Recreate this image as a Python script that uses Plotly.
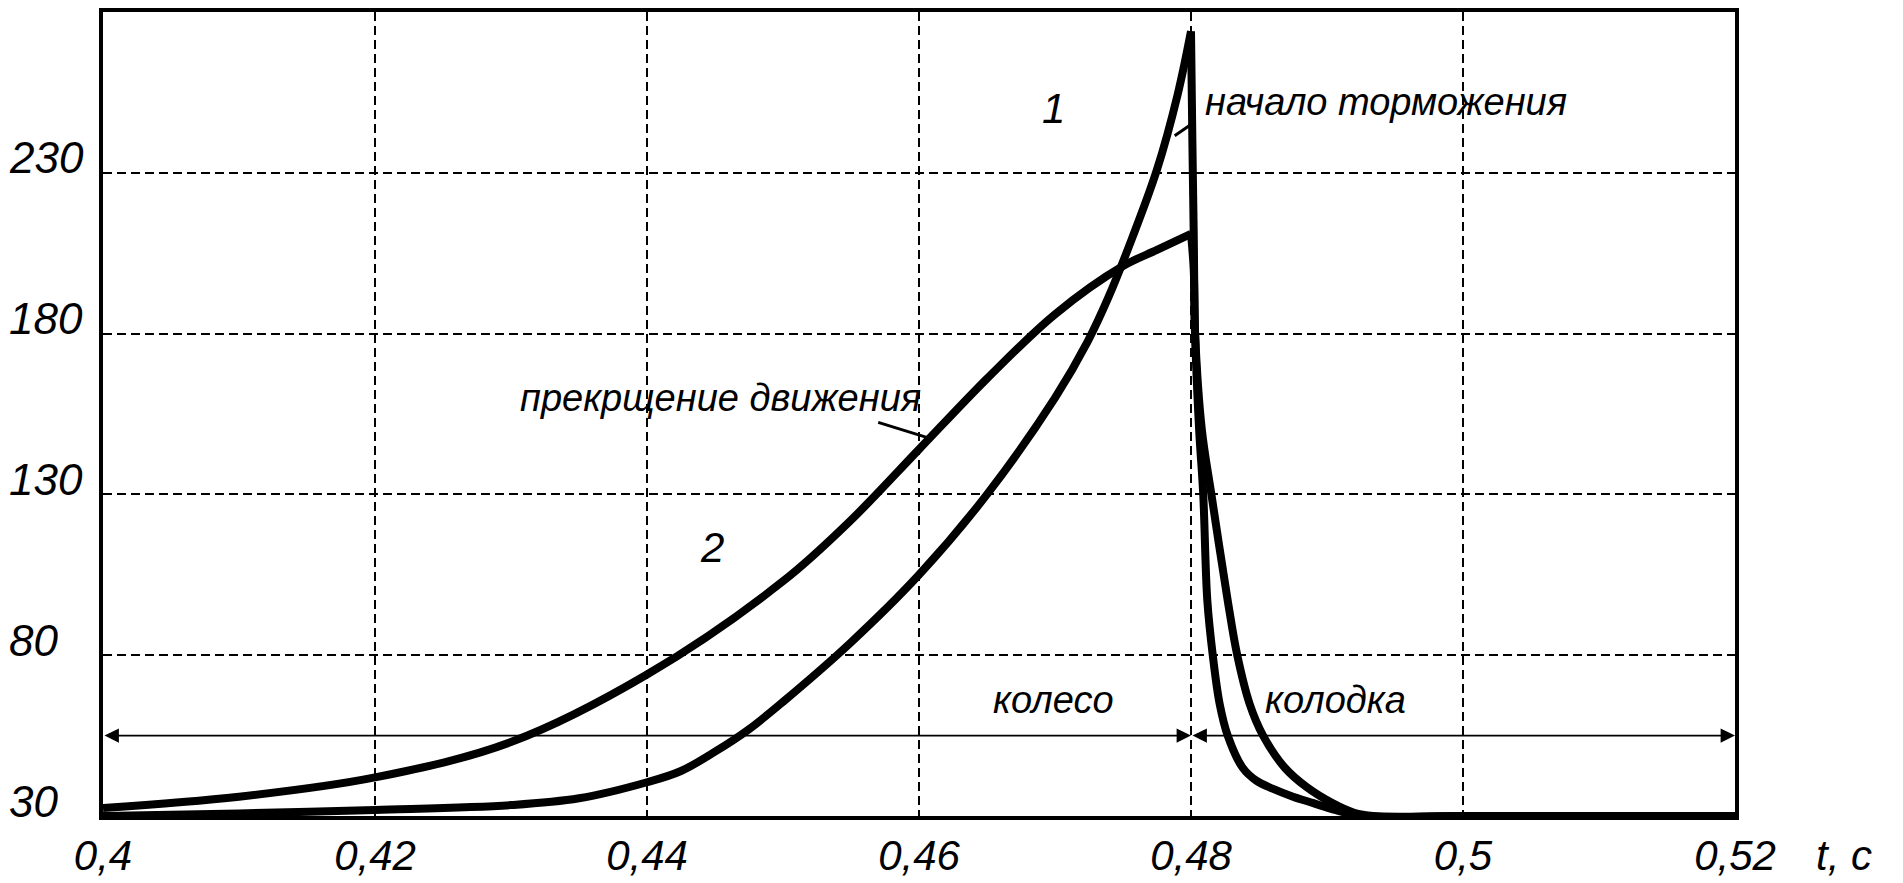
import plotly.graph_objects as go

# ---- data ----
# curve 1: rise to the peak, then fall
t1_rise = [0.400, 0.410, 0.420, 0.430, 0.435, 0.440, 0.4425, 0.445, 0.4475, 0.450,
           0.455, 0.460, 0.465, 0.470, 0.4724, 0.4739, 0.4757, 0.4775, 0.4790, 0.4800]
v1_rise = [30.0, 30.8, 31.9, 33.4, 35.5, 40.5, 44, 50, 57, 65.5,
           84, 105, 130, 160, 177.5, 191, 210, 231, 254, 274]
t1_fall = [0.4800, 0.4801, 0.4802, 0.4803, 0.4806, 0.4809, 0.4812, 0.4816, 0.4821,
           0.4827, 0.4838, 0.4848, 0.4860, 0.4875, 0.4890, 0.4905, 0.4926, 0.500, 0.520]
v1_fall = [274, 240, 211, 180, 150, 130, 97, 80, 65,
           55, 45, 41, 38.5, 36, 34, 32, 30, 30, 30]

# curve 2: rise to 0.48, then fall
t2_rise = [0.400, 0.410, 0.420, 0.430, 0.440, 0.450, 0.455, 0.460, 0.465, 0.470,
           0.475, 0.4775, 0.4800]
v2_rise = [32.5, 36, 42, 53, 74, 103, 122, 144, 166, 186,
           201, 206, 211]
t2_fall = [0.4800, 0.4802, 0.4803, 0.4808, 0.4815, 0.4827, 0.4834, 0.4843, 0.4853,
           0.4869, 0.4885, 0.4904, 0.4920, 0.4934, 0.500, 0.520]
v2_fall = [211, 200, 180, 150, 130, 97, 80, 65, 55,
           45, 39, 34, 31, 30, 30, 30]

x_ticks = [0.40, 0.42, 0.44, 0.46, 0.48, 0.50, 0.52]
x_tick_text = ["0,4", "0,42", "0,44", "0,46", "0,48", "0,5", "0,52"]
y_ticks = [30, 80, 130, 180, 230]
y_tick_text = ["30", "80", "130", "180", "230"]

arrow_level = 55
zone_bounds = [0.40, 0.48, 0.52]
zone_labels = ["колесо", "колодка"]
zone_label_t = [0.4699, 0.4906]

FONT = "Liberation Sans, Arial, sans-serif"

fig = go.Figure()
line_style = dict(color="black", width=8, shape="spline", smoothing=1.0)
for xs, ys in [(t1_rise, v1_rise), (t1_fall, v1_fall), (t2_rise, v2_rise), (t2_fall, v2_fall)]:
    fig.add_trace(go.Scatter(x=xs, y=ys, mode="lines", line=line_style,
                             showlegend=False, hoverinfo="skip"))

# leader lines
fig.add_trace(go.Scatter(x=[0.4570, 0.4608], y=[152.4, 147.4], mode="lines",
                         line=dict(color="black", width=3), showlegend=False,
                         hoverinfo="skip"))
fig.add_trace(go.Scatter(x=[0.4788, 0.4800], y=[241.5, 245], mode="lines",
                         line=dict(color="black", width=3), showlegend=False,
                         hoverinfo="skip"))

annotations = []
# dimension arrows
for a, b in zip(zone_bounds[:-1], zone_bounds[1:]):
    annotations.append(dict(x=b, y=arrow_level, ax=a, ay=arrow_level,
                            xref="x", yref="y", axref="x", ayref="y",
                            showarrow=True, arrowhead=2, startarrowhead=2,
                            arrowside="end+start", arrowsize=1.8, startarrowsize=1.8,
                            arrowwidth=1.6, arrowcolor="black", text=""))

txt_font = dict(size=38, family=FONT, style="italic", color="black")
for lab, tx in zip(zone_labels, zone_label_t):
    annotations.append(dict(x=tx, y=66, xref="x", yref="y", text=lab,
                            showarrow=False, font=txt_font))

annotations += [
    dict(x=0.4699, y=250, xref="x", yref="y", text="1", showarrow=False,
         font=dict(size=42, family=FONT, style="italic", color="black")),
    dict(x=0.4448, y=113.5, xref="x", yref="y", text="2", showarrow=False,
         font=dict(size=42, family=FONT, style="italic", color="black")),
    dict(x=0.4454, y=160, xref="x", yref="y", text="прекрщение движения",
         showarrow=False, font=txt_font),
    dict(x=0.48088, y=252, xref="x", yref="y", text="начало торможения",
         xanchor="left", showarrow=False, font=txt_font),
    dict(x=1.085, y=-0.05, xref="paper", yref="paper", text="t, c", yshift=-25,
         showarrow=False, font=dict(size=42, family=FONT, style="italic", color="black")),
]
for yv, yt in zip(y_ticks, y_tick_text):
    annotations.append(dict(x=-0.059, y=yv, xref="paper", yref="y", text=yt,
                            xanchor="left", yanchor="middle", yshift=15,
                            showarrow=False,
                            font=dict(size=44, family=FONT, style="italic", color="black")))

grid = dict(showgrid=True, gridcolor="black", gridwidth=1.5, griddash="9px,5px",
            showline=True, linecolor="black", linewidth=4, mirror=True,
            zeroline=False, ticks="", automargin=False)

fig.update_layout(
    width=1903, height=883,
    margin=dict(l=103, r=168, t=12, b=67, autoexpand=False),
    paper_bgcolor="white", plot_bgcolor="white",
    xaxis=dict(range=[0.40, 0.52], tickvals=x_ticks, ticktext=x_tick_text,
               tickfont=dict(size=42, family=FONT, style="italic", color="black"),
               **grid),
    yaxis=dict(range=[30, 280], tickvals=y_ticks, showticklabels=False, **grid),
    annotations=annotations,
    showlegend=False,
)

fig.write_html("out.html")
